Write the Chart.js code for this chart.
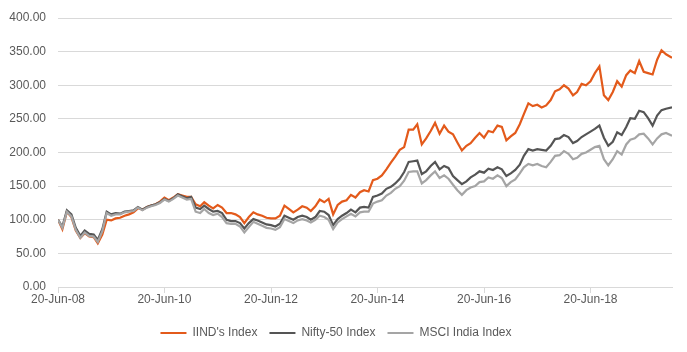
<!DOCTYPE html>
<html>
<head>
<meta charset="utf-8">
<script src="https://cdn.jsdelivr.net/npm/chart.js@4.4.1/dist/chart.umd.min.js"></script>
<style>
  html, body { margin: 0; padding: 0; background: #fff; }
  #wrap { width: 687px; height: 352px; position: relative; }
</style>
</head>
<body>
<div id="wrap"><canvas id="indexChart"></canvas></div>
<script>
// month-end style readings, one per month from Jun-2008
const firstMonth = '2008-06';
const lastDate = '2019-12-31';

const iindValues = [
  100, 86, 112, 104, 84, 73, 80, 75, 74, 65, 78, 100,
  99, 102, 103, 106, 108, 111, 117, 115, 119, 121, 123, 127,
  133, 129, 133, 138, 136, 134, 134, 123, 120, 126, 121, 117,
  122, 118, 110, 110, 108, 104, 95, 104, 111, 108, 106, 103,
  102, 102, 106, 121, 116, 111, 115, 120, 118, 113, 120, 130,
  126, 131, 108, 122, 127, 129, 137, 133, 141, 144, 142, 159,
  161, 166, 175, 185, 194, 204, 208, 234, 234, 242, 212, 221,
  232, 244, 228, 240, 231, 227, 215, 203, 210, 214, 222, 229,
  222, 232, 230, 240, 238, 218, 224, 229, 242, 257, 273, 269,
  271, 267, 270, 278, 291, 294, 300, 295, 285, 290, 302, 300,
  306, 318, 328, 285, 278, 290, 306, 298, 315, 322, 318, 336,
  320, 318, 316, 338, 352, 346, 341
];

const niftyValues = [
  100, 90, 114, 108, 88, 76, 84, 79, 78, 70, 86, 112,
  108, 110, 109, 112, 113, 114, 119, 115, 119, 121, 123, 126,
  131, 128, 132, 138, 135, 132, 134, 118, 116, 121, 116, 112,
  113, 110, 100, 98, 98, 95, 87, 95, 101, 99, 96, 93,
  92, 90, 94, 106, 103, 100, 104, 106, 104, 100, 104, 113,
  112, 107, 92, 101, 106, 110, 115, 111, 118, 119, 118, 134,
  136, 139, 146, 149, 154, 161, 171, 186, 187, 188, 168, 172,
  180, 186, 175, 180, 177, 165, 159, 153, 157, 163, 167, 172,
  170, 176, 174, 178, 175, 165, 169, 174, 182, 195, 205, 203,
  205, 204, 203, 210, 220, 221, 226, 223, 214, 217, 223, 227,
  231, 235, 240, 222, 210, 216, 230, 226, 238, 251, 250, 262,
  260, 251, 240, 255, 263, 265, 267
];

const msciValues = [
  100, 88, 112, 105, 85, 73, 81, 76, 75, 67, 83, 110,
  106, 108, 108, 111, 112, 113, 118, 114, 118, 120, 122, 125,
  130, 127, 131, 136, 133, 130, 131, 112, 110, 116, 110, 107,
  109, 104, 95, 94, 94, 90, 81, 89, 97, 94, 91, 88,
  87, 85, 89, 101, 98, 95, 99, 101, 99, 96, 100, 106,
  104, 100, 86, 96, 101, 105, 109, 105, 111, 112, 112, 124,
  127, 129, 136, 140, 146, 150, 158, 171, 172, 172, 154, 159,
  166, 172, 162, 166, 161, 152, 144, 137, 144, 148, 150, 156,
  157, 163, 161, 166, 162, 150, 156, 160, 169, 178, 183, 181,
  183, 180, 178, 186, 195, 196, 202, 198, 190, 192, 198, 200,
  204, 208, 210, 190, 181, 190, 202, 197, 212, 219, 221, 227,
  228, 221, 212, 221, 227, 229, 225
];

const seriesNames = ["IIND's Index", 'Nifty-50 Index', 'MSCI India Index'];
const seriesColors = ['#E35A1B', '#555555', '#A5A5A5'];

const tickDates = ['2008-06-20', '2010-06-20', '2012-06-20', '2014-06-20', '2016-06-20', '2018-06-20'];
const tickLabels = ['20-Jun-08', '20-Jun-10', '20-Jun-12', '20-Jun-14', '20-Jun-16', '20-Jun-18'];
const yTicks = [0, 50, 100, 150, 200, 250, 300, 350, 400];

const DAY = 86400000;
const origin = Date.parse(tickDates[0]);
const toDay = s => (Date.parse(s) - origin) / DAY;

// one date per reading: the 20th of each month, last one the final date
const startYear = +firstMonth.slice(0, 4);
const startMon = +firstMonth.slice(5, 7) - 1;
const dates = iindValues.map((v, i) => {
  if (i === iindValues.length - 1) return lastDate;
  const d = new Date(Date.UTC(startYear, startMon + i, 20));
  return d.toISOString().slice(0, 10);
});

const toPoints = vals => vals.map((v, i) => ({ x: toDay(dates[i]), y: v }));

const fontFamily = '"Liberation Sans", Arial, sans-serif';
const textColor = '#595959';
const gridColor = '#D9D9D9';

const datasets = [iindValues, niftyValues, msciValues].map((vals, i) => ({
  label: seriesNames[i],
  data: toPoints(vals),
  borderColor: seriesColors[i],
  backgroundColor: seriesColors[i],
  borderWidth: 2.2,
  pointRadius: 0,
  tension: 0,
  order: 2 - i
}));

new Chart(document.getElementById('indexChart'), {
  type: 'line',
  data: { datasets: datasets },
  options: {
    responsive: true,
    maintainAspectRatio: false,
    animation: false,
    layout: { padding: { top: -4, right: 15, bottom: 3, left: 0 } },
    plugins: {
      tooltip: { enabled: false },
      legend: {
        position: 'bottom',
        labels: {
          color: textColor,
          font: { family: fontFamily, size: 12 },
          boxWidth: 26,
          boxHeight: 2,
          padding: 12,
          sort: (a, b) => a.datasetIndex - b.datasetIndex,
          generateLabels: chart => Chart.defaults.plugins.legend.labels.generateLabels(chart)
            .map(item => Object.assign(item, { lineWidth: 0 }))
        }
      }
    },
    scales: {
      x: {
        type: 'linear',
        min: 0,
        max: toDay(lastDate),
        afterBuildTicks: scale => {
          scale.ticks = tickDates.map(d => ({ value: toDay(d) }));
        },
        afterFit: scale => { scale.height = 28; },
        ticks: {
          color: textColor,
          font: { family: fontFamily, size: 12 },
          maxRotation: 0,
          autoSkip: false,
          padding: -1,
          callback: (value, index) => tickLabels[index]
        },
        grid: { drawOnChartArea: false, color: gridColor, tickLength: 6 },
        border: { color: gridColor }
      },
      y: {
        min: 0,
        max: 400,
        afterBuildTicks: scale => {
          scale.ticks = yTicks.map(v => ({ value: v }));
        },
        afterFit: scale => { scale.width = 58; },
        ticks: {
          color: textColor,
          font: { family: fontFamily, size: 12, lineHeight: 1 },
          padding: 12,
          callback: v => v.toFixed(2)
        },
        grid: { color: gridColor, drawTicks: false },
        border: { display: false }
      }
    }
  }
});
</script>
</body>
</html>
